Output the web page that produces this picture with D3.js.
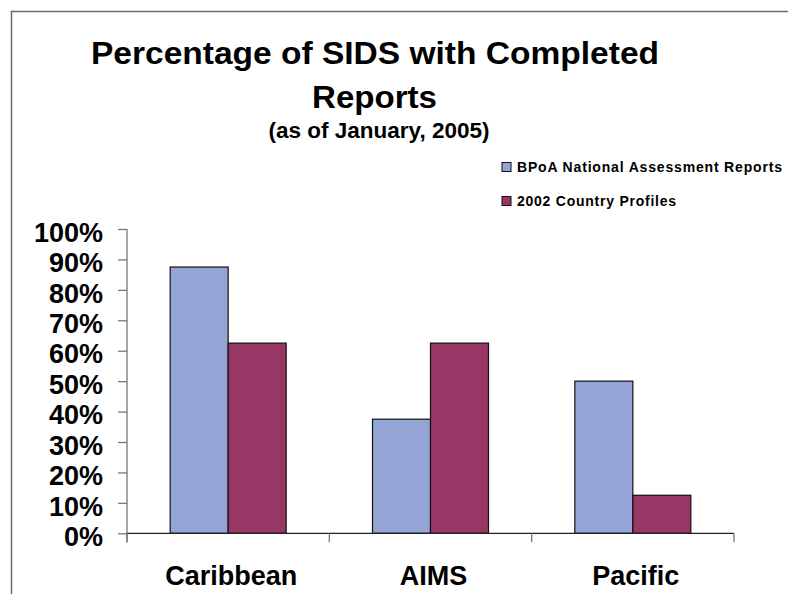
<!DOCTYPE html>
<html>
<head>
<meta charset="utf-8">
<script src="https://cdn.jsdelivr.net/npm/d3@7"></script>
<style>
  html, body { margin: 0; padding: 0; background: #fff; }
  svg { display: block; font-family: "Liberation Sans", Arial, sans-serif; }
</style>
</head>
<body>
<svg id="chart" width="788" height="594"></svg>
<script>
const categories = ["Caribbean", "AIMS", "Pacific"];
const seriesNames = ["BPoA National Assessment Reports", "2002 Country Profiles"];
const bpoaValues = [87.5, 37.5, 50];
const profileValues = [62.5, 62.5, 12.5];
const yTicks = [0, 10, 20, 30, 40, 50, 60, 70, 80, 90, 100];
const colors = ["#94A4D4", "#983766"];
const titleLines = ["Percentage of SIDS with Completed", "Reports"];
const subtitle = "(as of January, 2005)";

const seriesValues = [bpoaValues, profileValues];
const svg = d3.select("#chart");

// frame
svg.append("path")
  .attr("d", "M11.5,594 V11.5 H788")
  .attr("fill", "none").attr("stroke", "#6b6b6b").attr("stroke-width", 1.5);

// title
const title = svg.append("g").attr("font-weight", "bold").attr("fill", "#000").attr("text-anchor", "middle");
title.append("text").attr("x", 375).attr("y", 64).attr("font-size", 31)
  .attr("textLength", 568).attr("lengthAdjust", "spacingAndGlyphs").text(titleLines[0]);
title.append("text").attr("x", 374.5).attr("y", 108).attr("font-size", 31)
  .attr("textLength", 125).attr("lengthAdjust", "spacingAndGlyphs").text(titleLines[1]);
title.append("text").attr("x", 379).attr("y", 138).attr("font-size", 22.5).text(subtitle);

// scales
const pad = 0.4267;
const x0 = d3.scaleBand().domain(categories).range([127, 734]).paddingInner(pad).paddingOuter(pad / 2);
const x1 = d3.scaleBand().domain(d3.range(seriesNames.length)).range([0, x0.bandwidth()]);
const y = d3.scaleLinear().domain([0, 100]).range([533.3, 229]);

// bars
const groups = svg.append("g").selectAll("g").data(categories).join("g")
  .attr("transform", d => `translate(${x0(d)},0)`);
groups.selectAll("rect")
  .data((c, i) => seriesValues.map((vals, s) => ({ s, v: vals[i] })))
  .join("rect")
  .attr("x", d => x1(d.s))
  .attr("width", x1.bandwidth())
  .attr("y", d => y(d.v))
  .attr("height", d => y(0) - y(d.v))
  .attr("fill", d => colors[d.s])
  .attr("stroke", "#111").attr("stroke-width", 1.2);

// y axis
const yAxis = svg.append("g").attr("transform", "translate(127,0)")
  .call(d3.axisLeft(y).tickValues(yTicks).tickFormat(d => d + "%").tickSize(9).tickPadding(15));
yAxis.select(".domain").remove();
yAxis.selectAll(".tick line").attr("stroke", "#777").attr("stroke-width", 1.3);
yAxis.selectAll(".tick text")
  .attr("font-size", 27).attr("font-weight", "bold").attr("fill", "#000")
  .attr("font-family", "'Liberation Sans', Arial, sans-serif")
  .attr("x", -24).attr("dy", "0.45em");
svg.append("line").attr("x1", 127).attr("x2", 127).attr("y1", y(100)).attr("y2", y(0) + 9)
  .attr("stroke", "#777").attr("stroke-width", 1.3);

// x axis
const xAxisG = svg.append("g");
xAxisG.append("line").attr("x1", 127).attr("x2", 734).attr("y1", y(0)).attr("y2", y(0))
  .attr("stroke", "#222").attr("stroke-width", 1.3);
const boundaries = categories.map(c => x0(c) - x0.step() * x0.paddingInner() / 2)
  .concat([x0(categories[categories.length - 1]) + x0.bandwidth() + x0.step() * x0.paddingInner() / 2]);
xAxisG.selectAll("line.tk").data(boundaries).join("line").attr("class", "tk")
  .attr("x1", d => d).attr("x2", d => d).attr("y1", y(0)).attr("y2", y(0) + 9)
  .attr("stroke", "#777").attr("stroke-width", 1.3);
xAxisG.selectAll("text").data(categories).join("text")
  .attr("x", d => x0(d) + x0.bandwidth() / 2 + 3)
  .attr("y", 585)
  .attr("text-anchor", "middle").attr("font-size", 27).attr("font-weight", "bold").attr("fill", "#000")
  .text(d => d);

// legend
const legendRows = [
  { name: seriesNames[0], y: 167, len: 265 },
  { name: seriesNames[1], y: 201, len: 159 }
];
const lg = svg.append("g").selectAll("g").data(legendRows).join("g");
lg.append("rect").attr("x", 502).attr("y", d => d.y - 4.5).attr("width", 9).attr("height", 9)
  .attr("fill", (d, i) => colors[i]).attr("stroke", "#111").attr("stroke-width", 1);
lg.append("text").attr("x", 517).attr("y", d => d.y + 5.3)
  .attr("font-size", 14).attr("font-weight", "bold").attr("fill", "#000")
  .attr("textLength", d => d.len).attr("lengthAdjust", "spacing")
  .text(d => d.name);
</script>
</body>
</html>
